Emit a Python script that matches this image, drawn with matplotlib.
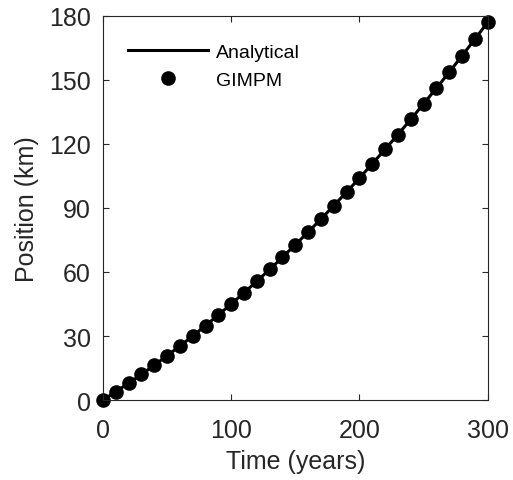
import matplotlib
matplotlib.use("Agg")
import matplotlib.pyplot as plt

# time in years and ice front position in km
time_years = [0, 10, 20, 30, 40, 50, 60, 70, 80, 90, 100,
              110, 120, 130, 140, 150, 160, 170, 180, 190, 200,
              210, 220, 230, 240, 250, 260, 270, 280, 290, 300]
analytical_km = [0.0, 3.9, 7.9, 12.0, 16.3, 20.8, 25.3, 30.0, 34.9, 39.9, 45.0,
                 50.3, 55.7, 61.2, 66.9, 72.8, 78.7, 84.8, 91.1, 97.5, 104.0,
                 110.7, 117.5, 124.4, 131.5, 138.8, 146.1, 153.6, 161.3, 169.1, 177.0]
gimpm_km = [0.0, 3.9, 7.9, 12.0, 16.3, 20.8, 25.3, 30.0, 34.9, 39.9, 45.0,
            50.3, 55.7, 61.2, 66.9, 72.8, 78.7, 84.8, 91.1, 97.5, 104.0,
            110.7, 117.5, 124.4, 131.5, 138.8, 146.1, 153.6, 161.3, 169.1, 177.0]

xticks = [0, 100, 200, 300]
yticks = [0, 30, 60, 90, 120, 150, 180]

plt.rcParams['font.family'] = ['Liberation Sans', 'DejaVu Sans']

fig = plt.figure(figsize=(5.13, 4.81), dpi=100)
ax = fig.add_axes([0.2008, 0.1663, 0.7497, 0.7984])

ax.plot(time_years, analytical_km, color='black', linewidth=2.2,
        label='Analytical', clip_on=False)
ax.plot(time_years, gimpm_km, linestyle='none', marker='o', markersize=9.5,
        color='black', label='GIMPM', clip_on=False)

ax.set_xlim(0, 300)
ax.set_ylim(0, 180)
ax.set_xticks(xticks)
ax.set_yticks(yticks)
ax.tick_params(direction='in', top=True, right=True, length=4, width=0.8,
               labelsize=18, colors='#262626')
ax.tick_params(axis='x', pad=13)
ax.tick_params(axis='y', pad=9)
for s in ax.spines.values():
    s.set_color('#262626')
    s.set_linewidth(0.8)

ax.set_xlabel('Time (years)', fontsize=18, color='#262626', labelpad=5)
ax.set_ylabel('Position (km)', fontsize=18, color='#262626', labelpad=7)

ax.legend(loc='upper left', bbox_to_anchor=(0.02, 0.975), frameon=False,
          fontsize=14, handlelength=4.1, handletextpad=0.4, labelspacing=0.55)

fig.savefig('out.png', dpi=100)
